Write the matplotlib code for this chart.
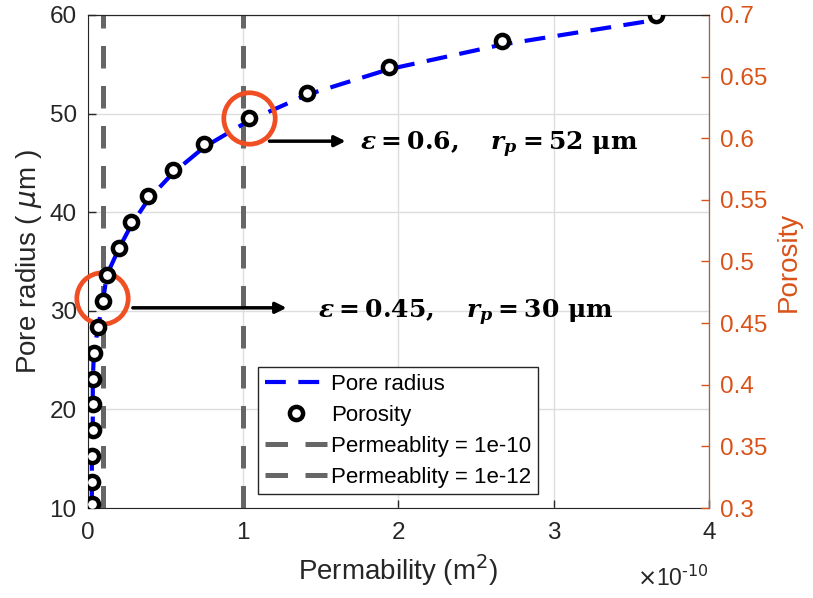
import numpy as np
import matplotlib
matplotlib.use("Agg")
import matplotlib.pyplot as plt

plt.rcParams['font.family'] = ['Liberation Sans', 'DejaVu Sans']
plt.rcParams['mathtext.fontset'] = 'dejavusans'
# bold serif for the annotation formulas (used via math_fontfamily='custom')
plt.rcParams['mathtext.rm'] = 'DejaVu Serif:bold'
plt.rcParams['mathtext.it'] = 'DejaVu Serif:italic:bold'
plt.rcParams['mathtext.bf'] = 'DejaVu Serif:bold'

# permeability in units of 1e-10 m^2
perm = [0.026, 0.026, 0.026, 0.032, 0.032, 0.032, 0.039, 0.064, 0.097, 0.122,
        0.20, 0.28, 0.39, 0.55, 0.75, 1.04, 1.41, 1.94, 2.67, 3.66]
radius = [10.4, 12.7, 15.4, 17.9, 20.5, 23.0, 25.6, 28.2, 30.9, 33.6,
          36.3, 38.7, 41.3, 44.0, 46.6, 49.3, 51.9, 54.5, 57.0, 59.5]
porosity = [0.303, 0.321, 0.342, 0.363, 0.384, 0.405, 0.426, 0.447, 0.468, 0.489,
            0.511, 0.532, 0.553, 0.574, 0.595, 0.616, 0.637, 0.658, 0.679, 0.700]
perm_lines = [1.0, 0.1]
perm_line_labels = ['Permeablity = 1e-10', 'Permeablity = 1e-12']

# highlighted points: (perm, radius)
hl_x = [1.04, 0.09]
hl_y = [49.6, 31.3]
notes = [r"$\varepsilon = 0.6,\quad r_p = 52\ \mathrm{μm}$",
         r"$\varepsilon = 0.45,\quad r_p = 30\ \mathrm{μm}$"]
arrow_x0 = [1.17, 0.29]
arrow_x1 = [1.66, 1.28]
arrow_y = [47.2, 30.3]
note_x = [1.75, 1.48]
note_y = [46.8, 29.8]

orange = '#D95319'
fig = plt.figure(figsize=(8.13, 5.98), dpi=100)
ax = fig.add_axes([0.108, 0.1505, 0.764, 0.8245])
ax2 = ax.twinx()

l1, = ax.plot(perm, radius, color=(0, 0, 1), lw=3, dashes=(5, 3), label='Pore radius', zorder=3)
vls = []
for xv, lab in zip(perm_lines, perm_line_labels):
    v = ax.axvline(xv, color='#666666', lw=3.6, dashes=(4.5, 3.5), label=lab, zorder=2)
    vls.append(v)

m1, = ax2.plot(perm, porosity, 'o', ms=9.5, mfc='white', mec='black', mew=3.2,
               label='Porosity', zorder=4)

ax.set_xlim(0, 4)
ax.set_ylim(10, 60)
ax2.set_ylim(0.3, 0.7)
ax.set_xticks([0, 1, 2, 3, 4])
ax.set_yticks([10, 20, 30, 40, 50, 60])
ax2.set_yticks(np.round(np.arange(0.3, 0.701, 0.05), 2))
ax2.set_yticklabels(['0.3', '0.35', '0.4', '0.45', '0.5', '0.55', '0.6', '0.65', '0.7'])
ax.grid(True, color='#dddddd', lw=1)
ax.set_axisbelow(True)

ax.tick_params(direction='in', length=6, width=1, labelsize=17.5, pad=8, colors='#262626')
ax.tick_params(axis='x', pad=10)
ax2.tick_params(direction='in', length=6, width=1, labelsize=17.5, pad=8, colors=orange)
for s in ['left', 'top', 'bottom']:
    ax.spines[s].set_color('#262626')
ax2.spines['right'].set_color(orange)
ax2.spines['left'].set_visible(False)
ax2.spines['top'].set_color('#262626')
ax2.spines['bottom'].set_visible(False)

ax.set_ylabel(r"Pore radius ( $\mu$m )", fontsize=20, color='#262626', labelpad=4)
ax2.set_ylabel("Porosity", fontsize=20, color=orange, labelpad=6)
ax.set_xlabel(r"Permability (m$^2$)", fontsize=20, color='#262626', labelpad=6)
ax.text(1.0, -0.142, r"$\times$10$^{\mathrm{\text{-}}10}$", transform=ax.transAxes, ha='right',
        va='center', fontsize=16.5, color='#262626')

# highlight circles, arrows, notes
ax.plot(hl_x, hl_y, 'o', ms=37, mfc='none', mec='#F04E23', mew=3.4, zorder=5, clip_on=False)
for i in range(2):
    ax.annotate('', xy=(arrow_x1[i], arrow_y[i]), xytext=(arrow_x0[i], arrow_y[i]),
                arrowprops=dict(arrowstyle='-|>', lw=2.5, color='k', mutation_scale=16,
                                shrinkA=0, shrinkB=0), zorder=6)
    t = ax.text(note_x[i], note_y[i], notes[i], fontsize=18, va='center', ha='left', zorder=6)
    t.set_math_fontfamily('custom')

leg = ax2.legend(handles=[l1, m1] + vls, loc='lower left', bbox_to_anchor=(0.274, 0.028),
                 fontsize=16, frameon=True, fancybox=False, framealpha=1,
                 edgecolor='#262626', borderpad=0.3, labelspacing=0.45,
                 handlelength=2.8, handletextpad=0.2, borderaxespad=0)
leg.get_frame().set_linewidth(1)
leg.set_zorder(10)

fig.savefig('out.png', dpi=100)
